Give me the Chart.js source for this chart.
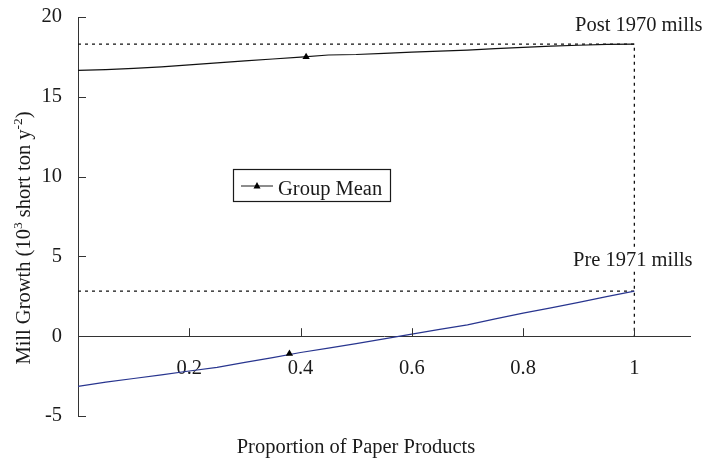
<!DOCTYPE html>
<html>
<head>
<meta charset="utf-8">
<script src="https://cdn.jsdelivr.net/npm/chart.js@4.4.0/dist/chart.umd.min.js"></script>
<style>
  html, body { margin: 0; padding: 0; background: #fff; }
  #c { display: block; }
</style>
</head>
<body>
<canvas id="c" width="706" height="468"></canvas>
<script>
// Share of paper products in a mill's output
const proportion = [0, 0.05, 0.1, 0.15, 0.2, 0.25, 0.3, 0.35, 0.4, 0.45, 0.5,
                    0.55, 0.6, 0.65, 0.7, 0.75, 0.8, 0.85, 0.9, 0.95, 1];
// Mill growth, 10^3 short ton per year^2
const post1970 = [16.65, 16.7, 16.78, 16.88, 17.0, 17.12, 17.25, 17.37, 17.48, 17.62, 17.65,
                  17.72, 17.8, 17.86, 17.93, 18.02, 18.1, 18.17, 18.23, 18.29, 18.3];
const pre1971 = [-3.14, -2.88, -2.65, -2.42, -2.18, -1.95, -1.64, -1.34, -1.02, -0.75, -0.46,
                 -0.17, 0.13, 0.43, 0.71, 1.09, 1.45, 1.77, 2.12, 2.48, 2.82];
// Group means (post 1970, pre 1971)
const groupMeanX = [0.41, 0.38];
const groupMeanY = [17.5, -1.1];

const seriesNames = ['Post 1970 mills', 'Pre 1971 mills'];
const legendLabel = 'Group Mean';
const xTitle = 'Proportion of Paper Products';

const xTicks = [0.2, 0.4, 0.6, 0.8, 1];
const xTickLabels = ['0.2', '0.4', '0.6', '0.8', '1'];
const yTicks = [-5, 0, 5, 10, 15, 20];
const yTickLabels = ['-5', '0', '5', '10', '15', '20'];

const FONT = "'Liberation Serif', 'Times New Roman', serif";
const FS = 20.5;
const INK = '#1a1a1a';
const AXIS = '#333';
const BLUE = '#28358f';

const xEnd = proportion[proportion.length - 1];
const postEnd = post1970[post1970.length - 1];
const preEnd = pre1971[pre1971.length - 1];

const toPoints = (xs, ys) => xs.map((x, i) => ({ x: x, y: ys[i] }));

// Inward tick marks, annotations, the boxed legend and the axis titles
const decorations = {
  id: 'decorations',
  afterDraw(chart) {
    const ctx = chart.ctx;
    const xs = chart.scales.x, ys = chart.scales.y;
    const x0 = xs.getPixelForValue(0), y0 = ys.getPixelForValue(0);
    ctx.save();

    // tick marks pointing into the plot
    ctx.strokeStyle = AXIS;
    ctx.lineWidth = 1;
    ctx.beginPath();
    yTicks.forEach(v => {
      const py = Math.round(ys.getPixelForValue(v)) + 0.5;
      ctx.moveTo(x0, py); ctx.lineTo(x0 + 8, py);
    });
    xTicks.forEach(v => {
      const px = Math.round(xs.getPixelForValue(v)) + 0.5;
      ctx.moveTo(px, y0); ctx.lineTo(px, y0 - 8);
    });
    ctx.stroke();

    // series names (white backing so guide lines pass behind them)
    ctx.font = FS + 'px ' + FONT;
    ctx.textAlign = 'left';
    ctx.textBaseline = 'alphabetic';
    const wPre = ctx.measureText(seriesNames[1]).width;
    ctx.fillStyle = '#fff';
    ctx.fillRect(571, 249, wPre + 4, 22);
    ctx.fillStyle = INK;
    ctx.fillText(seriesNames[0], 575, 31);
    ctx.fillText(seriesNames[1], 573, 266);

    // legend box
    ctx.fillStyle = '#fff';
    ctx.fillRect(233.5, 169.5, 157, 32);
    ctx.strokeStyle = INK;
    ctx.lineWidth = 1.2;
    ctx.strokeRect(233.5, 169.5, 157, 32);
    ctx.beginPath();
    ctx.moveTo(241, 186); ctx.lineTo(273, 186);
    ctx.lineWidth = 1;
    ctx.stroke();
    ctx.fillStyle = '#000';
    ctx.beginPath();
    ctx.moveTo(257, 182); ctx.lineTo(260.5, 188.5); ctx.lineTo(253.5, 188.5);
    ctx.closePath(); ctx.fill();
    ctx.fillStyle = INK;
    ctx.fillText(legendLabel, 278, 195);

    // x axis title
    ctx.textAlign = 'center';
    ctx.fillText(xTitle, 356, 453);

    // y axis title with superscripts
    const parts = [
      { t: 'Mill Growth (10', sup: false },
      { t: '3', sup: true },
      { t: ' short ton y', sup: false },
      { t: '-2', sup: true },
      { t: ')', sup: false }
    ];
    const fontFor = p => (p.sup ? '13.5px ' : FS + 'px ') + FONT;
    let total = 0;
    parts.forEach(p => { ctx.font = fontFor(p); p.w = ctx.measureText(p.t).width; total += p.w; });
    ctx.translate(29.5, 238);
    ctx.rotate(-Math.PI / 2);
    ctx.textAlign = 'left';
    let cx = -total / 2;
    parts.forEach(p => {
      ctx.font = fontFor(p);
      ctx.fillText(p.t, cx, p.sup ? -8 : 0);
      cx += p.w;
    });
    ctx.restore();
  }
};

new Chart(document.getElementById('c'), {
  type: 'scatter',
  data: {
    datasets: [
      {
        label: seriesNames[0],
        data: toPoints(proportion, post1970),
        showLine: true, borderColor: '#111', borderWidth: 1.2,
        pointRadius: 0, tension: 0, order: 2
      },
      {
        label: seriesNames[1],
        data: toPoints(proportion, pre1971),
        showLine: true, borderColor: BLUE, borderWidth: 1.2,
        pointRadius: 0, tension: 0, order: 2
      },
      {
        label: 'post-end guide',
        data: [{ x: 0, y: postEnd }, { x: xEnd, y: postEnd }, { x: xEnd, y: 0 }],
        showLine: true, borderColor: '#111', borderWidth: 1.3, borderDash: [3, 4],
        pointRadius: 0, tension: 0, order: 3
      },
      {
        label: 'pre-end guide',
        data: [{ x: 0, y: preEnd }, { x: xEnd, y: preEnd }],
        showLine: true, borderColor: '#111', borderWidth: 1.3, borderDash: [3, 4],
        pointRadius: 0, tension: 0, order: 3
      },
      {
        label: legendLabel,
        data: toPoints(groupMeanX, groupMeanY),
        showLine: false, pointStyle: 'triangle', pointRadius: 4.2,
        backgroundColor: '#000', borderColor: '#000', borderWidth: 0, order: 1
      }
    ]
  },
  options: {
    responsive: false,
    animation: false,
    devicePixelRatio: 1,
    layout: { padding: { left: 0, right: 16, top: 17, bottom: 52 } },
    plugins: { legend: { display: false }, tooltip: { enabled: false } },
    scales: {
      x: {
        type: 'linear', min: 0, max: 1.1,
        position: { y: 0 },
        grid: { display: false, drawTicks: false },
        border: { display: true, color: AXIS, width: 1 },
        afterBuildTicks: s => { s.ticks = xTicks.map(v => ({ value: v })); },
        ticks: {
          autoSkip: false, maxRotation: 0, padding: 20,
          color: INK, font: { family: FONT, size: FS },
          callback: (v) => { const i = xTicks.indexOf(v); return i >= 0 ? xTickLabels[i] : ''; }
        }
      },
      y: {
        type: 'linear', min: -5, max: 20,
        grid: { display: false, drawTicks: false },
        border: { display: true, color: AXIS, width: 1 },
        afterBuildTicks: s => { s.ticks = yTicks.map(v => ({ value: v })); },
        afterFit: s => { s.width = 78; s.paddingTop = 10; s.paddingBottom = 10; },
        ticks: {
          padding: 16, color: INK, font: { family: FONT, size: FS },
          callback: (v) => { const i = yTicks.indexOf(v); return i >= 0 ? yTickLabels[i] : ''; }
        }
      }
    }
  },
  plugins: [decorations]
});
</script>
</body>
</html>
